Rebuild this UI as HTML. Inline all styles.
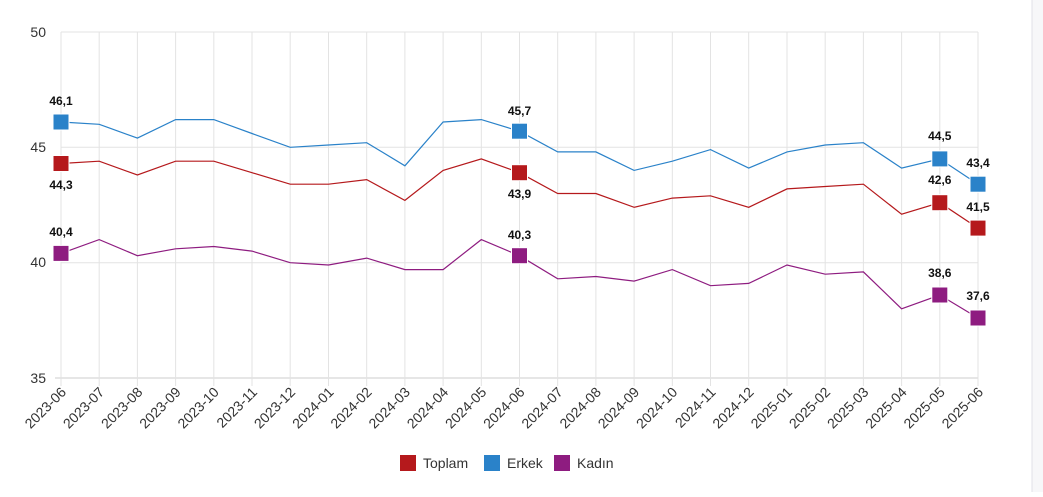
<!DOCTYPE html>
<html><head><meta charset="utf-8"><style>
body{margin:0;background:#fff;width:1043px;height:492px;overflow:hidden}
svg{font-family:"Liberation Sans",sans-serif}
</style></head><body>
<svg width="1043" height="492" xmlns="http://www.w3.org/2000/svg">
<rect x="1032" y="0" width="11" height="492" fill="#f7f7f9"/>
<line x1="1032" y1="0" x2="1032" y2="492" stroke="#e2e2e8"/>
<g stroke="#e3e3e3" stroke-width="1">
<line x1="61" y1="32" x2="978" y2="32"/><line x1="61" y1="147.3" x2="978" y2="147.3"/><line x1="61" y1="262.7" x2="978" y2="262.7"/><line x1="55" y1="378" x2="978" y2="378" stroke="#ccc"/>
<path d="M61 32V386M99.2 32V386M137.4 32V386M175.6 32V386M213.8 32V386M252 32V386M290.2 32V386M328.5 32V386M366.7 32V386M404.9 32V386M443.1 32V386M481.3 32V386M519.5 32V386M557.7 32V386M595.9 32V386M634.1 32V386M672.3 32V386M710.5 32V386M748.7 32V386M787 32V386M825.2 32V386M863.4 32V386M901.6 32V386M939.8 32V386M978 32V386"/>
</g>
<g font-size="14" fill="#333" text-anchor="end">
<text x="46" y="37">50</text><text x="46" y="152">45</text><text x="46" y="267">40</text><text x="46" y="383">35</text>
</g>
<g font-size="14" fill="#333" text-anchor="end">
<text transform="translate(67,393) rotate(-45)">2023-06</text>
<text transform="translate(105.2,393) rotate(-45)">2023-07</text>
<text transform="translate(143.4,393) rotate(-45)">2023-08</text>
<text transform="translate(181.6,393) rotate(-45)">2023-09</text>
<text transform="translate(219.8,393) rotate(-45)">2023-10</text>
<text transform="translate(258,393) rotate(-45)">2023-11</text>
<text transform="translate(296.2,393) rotate(-45)">2023-12</text>
<text transform="translate(334.5,393) rotate(-45)">2024-01</text>
<text transform="translate(372.7,393) rotate(-45)">2024-02</text>
<text transform="translate(410.9,393) rotate(-45)">2024-03</text>
<text transform="translate(449.1,393) rotate(-45)">2024-04</text>
<text transform="translate(487.3,393) rotate(-45)">2024-05</text>
<text transform="translate(525.5,393) rotate(-45)">2024-06</text>
<text transform="translate(563.7,393) rotate(-45)">2024-07</text>
<text transform="translate(601.9,393) rotate(-45)">2024-08</text>
<text transform="translate(640.1,393) rotate(-45)">2024-09</text>
<text transform="translate(678.3,393) rotate(-45)">2024-10</text>
<text transform="translate(716.5,393) rotate(-45)">2024-11</text>
<text transform="translate(754.7,393) rotate(-45)">2024-12</text>
<text transform="translate(793,393) rotate(-45)">2025-01</text>
<text transform="translate(831.2,393) rotate(-45)">2025-02</text>
<text transform="translate(869.4,393) rotate(-45)">2025-03</text>
<text transform="translate(907.6,393) rotate(-45)">2025-04</text>
<text transform="translate(945.8,393) rotate(-45)">2025-05</text>
<text transform="translate(984,393) rotate(-45)">2025-06</text>
</g>
<polyline fill="none" stroke="#2a82c9" stroke-width="1.2" points="61,122 99.2,124.3 137.4,138.1 175.6,119.6 213.8,119.6 252,133.5 290.2,147.3 328.5,145 366.7,142.7 404.9,165.8 443.1,122 481.3,119.6 519.5,131.2 557.7,151.9 595.9,151.9 634.1,170.4 672.3,161.2 710.5,149.6 748.7,168.1 787,151.9 825.2,145 863.4,142.7 901.6,168.1 939.8,158.9 978,184.2"/>
<polyline fill="none" stroke="#b5191c" stroke-width="1.2" points="61,163.5 99.2,161.2 137.4,175 175.6,161.2 213.8,161.2 252,172.7 290.2,184.2 328.5,184.2 366.7,179.6 404.9,200.4 443.1,170.4 481.3,158.9 519.5,172.7 557.7,193.5 595.9,193.5 634.1,207.3 672.3,198.1 710.5,195.8 748.7,207.3 787,188.9 825.2,186.5 863.4,184.2 901.6,214.2 939.8,202.7 978,228.1"/>
<polyline fill="none" stroke="#8e1c80" stroke-width="1.2" points="61,253.4 99.2,239.6 137.4,255.7 175.6,248.8 213.8,246.5 252,251.1 290.2,262.7 328.5,265 366.7,258.1 404.9,269.6 443.1,269.6 481.3,239.6 519.5,255.7 557.7,278.8 595.9,276.5 634.1,281.1 672.3,269.6 710.5,285.7 748.7,283.4 787,265 825.2,274.2 863.4,271.9 901.6,308.8 939.8,295 978,318"/>
<g fill="#2a82c9" stroke="#fff" stroke-width="1">
<rect x="53" y="114" width="16" height="16"/><rect x="511.5" y="123.2" width="16" height="16"/><rect x="931.8" y="150.9" width="16" height="16"/><rect x="970" y="176.2" width="16" height="16"/></g>
<g fill="#b5191c" stroke="#fff" stroke-width="1">
<rect x="53" y="155.5" width="16" height="16"/><rect x="511.5" y="164.7" width="16" height="16"/><rect x="931.8" y="194.7" width="16" height="16"/><rect x="970" y="220.1" width="16" height="16"/></g>
<g fill="#8e1c80" stroke="#fff" stroke-width="1">
<rect x="53" y="245.4" width="16" height="16"/><rect x="511.5" y="247.7" width="16" height="16"/><rect x="931.8" y="287" width="16" height="16"/><rect x="970" y="310" width="16" height="16"/></g>
<g font-size="12" font-weight="bold" fill="#111" text-anchor="middle">
<text x="61" y="105">46,1</text><text x="61" y="189">44,3</text><text x="61" y="236">40,4</text>
<text x="519.5" y="115">45,7</text><text x="519.5" y="198">43,9</text><text x="519.5" y="239">40,3</text>
<text x="939.8" y="140">44,5</text><text x="939.8" y="184">42,6</text><text x="939.8" y="277">38,6</text>
<text x="978" y="167">43,4</text><text x="978" y="211">41,5</text><text x="978" y="300">37,6</text>
</g>
<g font-size="14" fill="#333">
<rect x="400" y="455" width="16" height="16" fill="#b5191c"/><text x="423" y="468">Toplam</text>
<rect x="484" y="455" width="16" height="16" fill="#2a82c9"/><text x="507" y="468">Erkek</text>
<rect x="554" y="455" width="16" height="16" fill="#8e1c80"/><text x="577" y="468">Kadın</text>
</g>
</svg>
</body></html>
